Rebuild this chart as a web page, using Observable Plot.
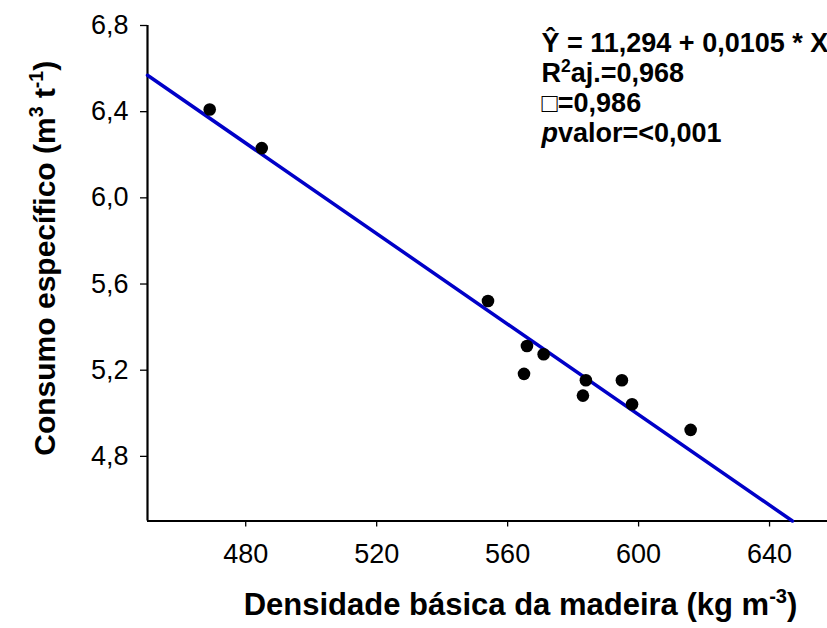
<!DOCTYPE html>
<html><head><meta charset="utf-8">
<script src="https://cdn.jsdelivr.net/npm/d3@7"></script>
<script src="https://cdn.jsdelivr.net/npm/@observablehq/plot@0.6"></script>
<style>
body{margin:0;background:#fff}
#chart svg{overflow:hidden}
</style>
</head><body><div id="chart"></div>
<script>
// Observed points: basic wood density (kg m-3) vs specific consumption (m3 t-1)
const density     = [469.0, 484.9, 554.0, 565.9, 571.0, 565.0, 583.9, 583.0, 594.9, 598.0, 615.9];
const consumption = [6.410, 6.231, 5.521, 5.312, 5.274, 5.183, 5.153, 5.082, 5.153, 5.042, 4.923];
// Fitted regression line endpoints (as drawn)
const fitDensity     = [450, 647];
const fitConsumption = [6.569, 4.5];
// Axes
const xTicks = [480, 520, 560, 600, 640];
const yTicks = [4.8, 5.2, 5.6, 6.0, 6.4, 6.8];
const xDomain = [450, 657.7];
const yDomain = [4.5, 6.8];
// Texts
const xTitle = "Densidade básica da madeira (kg m-3)";
const yTitle = "Consumo específico (m3 t-1)";
const annotLines = ["Ŷ = 11,294 + 0,0105 * X", "R2aj.=0,968", "□=0,986", "pvalor=<0,001"];

const points = density.map((d, i) => ({x: d, y: consumption[i]}));
const fit = fitDensity.map((d, i) => ({x: d, y: fitConsumption[i]}));
const comma = d => d3.format(".1f")(d).replace(".", ",");
const FONT = "Liberation Sans, Arial, Helvetica, sans-serif";

const plot = Plot.plot({
  width: 827,
  height: 628,
  marginLeft: 147,
  marginRight: 0,
  marginTop: 25,
  marginBottom: 107.5,
  style: {fontFamily: FONT, background: "#fff", color: "#000"},
  x: {domain: xDomain},
  y: {domain: yDomain},
  marks: [
    Plot.axisY({ticks: yTicks, tickFormat: comma, tickSize: 7, tickPadding: 12, fontSize: 27, stroke: "#000", strokeWidth: 1.3, label: null}),
    Plot.axisX({ticks: xTicks, tickSize: 6, tickPadding: 17, fontSize: 27, stroke: "#000", strokeWidth: 1.3, label: null}),
    Plot.ruleX([xDomain[0]], {stroke: "#000", strokeWidth: 2.2}),
    Plot.ruleY([yDomain[0]], {stroke: "#000", strokeWidth: 2.2}),
    Plot.line(fit, {x: "x", y: "y", stroke: "#0000c8", strokeWidth: 3.5}),
    Plot.dot(points, {x: "x", y: "y", r: 6.3, fill: "#000", stroke: "none"}),
    Plot.text([yTitle], {frameAnchor: "left", text: d => d, rotate: -90, textAnchor: "middle", lineAnchor: "middle",
      dx: -102, dy: -15, fontSize: 30, fontWeight: "bold", fill: "#000"}),
    Plot.text([xTitle], {frameAnchor: "bottom", text: d => d, textAnchor: "middle", lineAnchor: "middle",
      dx: 33, dy: 84, fontSize: 31, fontWeight: "bold", fill: "#000"}),
    ...annotLines.map((line, i) => Plot.text([line], {frameAnchor: "top-left", text: d => d, textAnchor: "start", lineAnchor: "middle",
      dx: 394, dy: 18 + 30 * i, fontSize: 27, fontWeight: "bold", fill: "#000"}))
  ]
});
document.getElementById("chart").appendChild(plot);

// Rich text post-processing (superscripts, italics)
const svg = d3.select(plot);
function rich(content, parts) {
  const sel = svg.selectAll("text").filter(function() { return this.textContent === content; });
  sel.text(null);
  parts.forEach((p, j) => {
    const t = sel.append("tspan").text(p.t);
    if (p.sup) t.attr("font-size", "65%").attr("dy", "-0.6em");
    else if (j > 0 && parts[j - 1].sup) t.attr("dy", "0.39em");
    if (p.it) t.attr("font-style", "italic");
  });
}
rich(yTitle, [{t: "Consumo específico (m"}, {t: "3", sup: true}, {t: " t"}, {t: "-1", sup: true}, {t: ")"}]);
rich(xTitle, [{t: "Densidade básica da madeira (kg m"}, {t: "-3", sup: true}, {t: ")"}]);
rich(annotLines[1], [{t: "R"}, {t: "2", sup: true}, {t: "aj.=0,968"}]);
rich(annotLines[3], [{t: "p", it: true}, {t: "valor=<0,001"}]);
</script>
</body></html>
